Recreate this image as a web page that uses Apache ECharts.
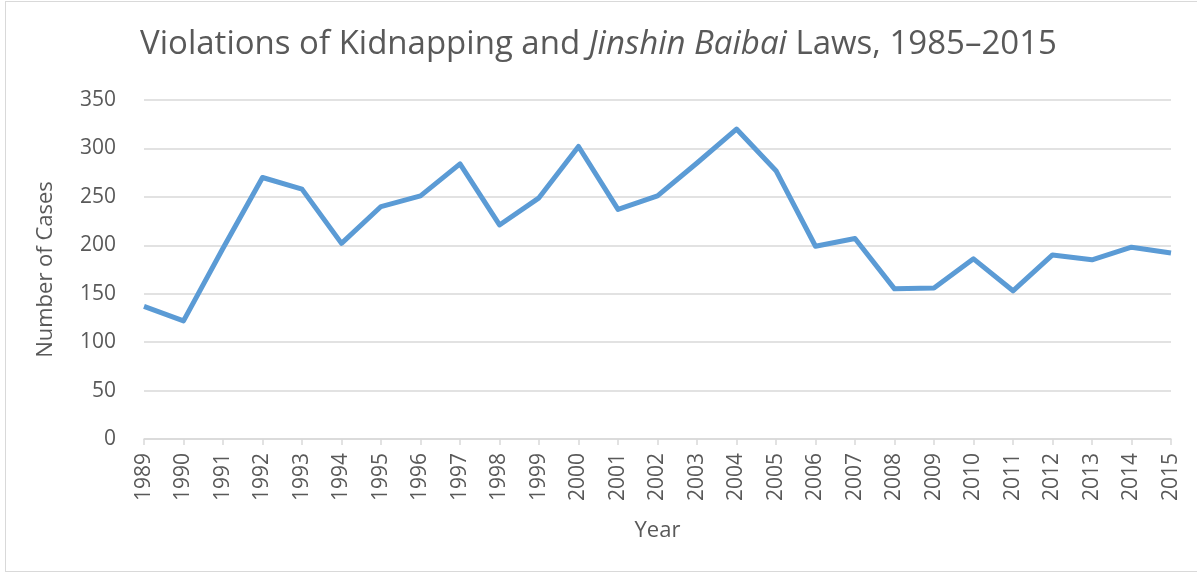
<!DOCTYPE html>
<html><head><meta charset="utf-8">
<script src="https://cdn.jsdelivr.net/npm/echarts@6/dist/echarts.min.js"></script>
<style>
html,body{margin:0;padding:0;background:#fff;}
#frame{position:absolute;left:5px;top:1px;width:1200px;height:571px;border:1px solid #d9d9d9;box-sizing:border-box;}
#chart{position:absolute;left:0;top:0;width:1197px;height:575px;}
</style></head>
<body>
<div id="frame"></div>
<div id="chart"></div>
<script>
const years = ['1989','1990','1991','1992','1993','1994','1995','1996','1997','1998','1999','2000','2001','2002','2003','2004','2005','2006','2007','2008','2009','2010','2011','2012','2013','2014','2015'];
const cases = [137,122,197,270,258,202,240,251,284,221,249,302,237,251,285,320,277,199,207,155,156,186,153,190,185,198,192];
const yTicks = [0,50,100,150,200,250,300,350];

const font = '"Open Sans", "Liberation Sans", sans-serif';
const chart = echarts.init(document.getElementById('chart'));
chart.setOption({
  animation:false,
  title:{
    text:'{n|Violations of Kidnapping and }{i|Jinshin Baibai}{n| Laws, 1985–2015}',
    left:'center', top:23,
    textStyle:{
      rich:{
        n:{fontFamily:font,fontSize:33,fontWeight:'normal',color:'#595959'},
        i:{fontFamily:font,fontSize:33,fontWeight:'normal',color:'#595959',fontStyle:'italic'}
      }
    }
  },
  grid:{left:144,right:26,top:100,bottom:136},
  xAxis:{
    type:'category', data:years, boundaryGap:false,
    name:'Year', nameLocation:'middle', nameGap:81,
    nameTextStyle:{fontFamily:font,fontSize:22,color:'#595959'},
    axisLine:{lineStyle:{color:'#d9d9d9',width:1.5}},
    axisTick:{show:true,length:6,lineStyle:{color:'#d9d9d9',width:1.5},alignWithLabel:true},
    axisLabel:{rotate:90,interval:0,margin:14,fontFamily:font,fontSize:21,color:'#595959'}
  },
  yAxis:{
    type:'value', min:yTicks[0], max:yTicks[yTicks.length-1], interval:50,
    name:'Number of Cases', nameLocation:'middle', nameGap:87,
    nameTextStyle:{fontFamily:font,fontSize:22,color:'#595959'},
    axisLine:{show:false}, axisTick:{show:false},
    axisLabel:{margin:28,fontFamily:font,fontSize:21,color:'#595959'},
    splitLine:{lineStyle:{color:'#d9d9d9',width:1.5}}
  },
  series:[{
    type:'line', data:cases, symbol:'none',
    lineStyle:{color:'#5b9bd5',width:5,join:'round'},
    itemStyle:{color:'#5b9bd5'}
  }]
});
</script>
</body></html>
